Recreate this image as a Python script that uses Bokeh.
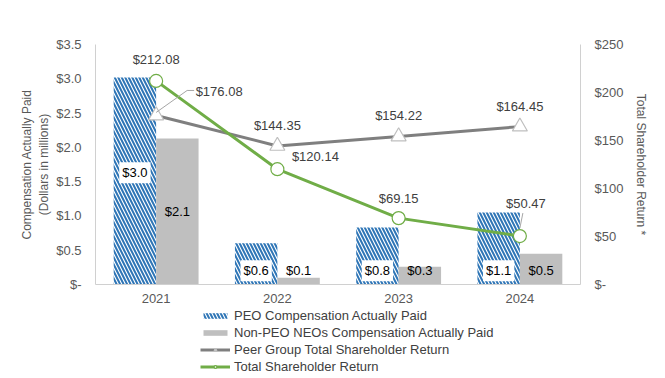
from bokeh.plotting import figure
from bokeh.layouts import column
from bokeh.models import (Range1d, LinearAxis, FixedTicker, CustomJSTickFormatter,
                          Legend, LegendItem, ColumnDataSource)
from bokeh.embed import file_html
from bokeh.resources import INLINE
from bokeh.core.properties import value

# ---------------- data ----------------
years = ["2021", "2022", "2023", "2024"]
peo_cap = [3.02, 0.60, 0.83, 1.05]          # $ millions
non_peo_cap = [2.13, 0.10, 0.26, 0.45]      # $ millions
peo_labels = ["$3.0", "$0.6", "$0.8", "$1.1"]
non_peo_labels = ["$2.1", "$0.1", "$0.3", "$0.5"]
tsr = [212.08, 120.14, 69.15, 50.47]
peer_tsr = [176.08, 144.35, 154.22, 164.45]
left_ticks = [0, 0.5, 1.0, 1.5, 2.0, 2.5, 3.0, 3.5]
right_ticks = [0, 50, 100, 150, 200, 250]
series_names = ["PEO Compensation Actually Paid", "Non-PEO NEOs Compensation Actually Paid",
                "Peer Group Total Shareholder Return", "Total Shareholder Return"]

FONT = "Liberation Sans"
TXT = "#404040"
AX = "#595959"
BLUE = "#2E75B6"
GRAY_BAR = "#BFBFBF"
PEER = "#7F7F7F"
GREEN = "#70AD47"

FW, FH = 485, 240
XMAX, YMAX, Y2MAX = 4, 3.5, 250

xc = [i + 0.5 for i in range(len(years))]
bw = 0.35

p = figure(frame_width=FW, frame_height=FH, output_backend="svg", toolbar_location=None,
           x_range=Range1d(0, XMAX), y_range=Range1d(0, YMAX),
           min_border_left=95, min_border_right=85, min_border_top=44, min_border_bottom=24)
p.extra_y_ranges = {"tsr": Range1d(0, Y2MAX)}
p.outline_line_color = None
p.xgrid.visible = False
p.ygrid.visible = False
p.background_fill_color = "white"
p.border_fill_color = "white"

# bars
src = ColumnDataSource(dict(
    x_peo=[x - bw / 2 for x in xc], x_non=[x + bw / 2 for x in xc],
    peo=peo_cap, non=non_peo_cap,
    peo_lab=peo_labels, non_lab=non_peo_labels,
    peo_ly=[v * 0.54 if v >= 2 else 0.2 for v in peo_cap],
    non_ly=[v / 2 if v >= 2 else 0.2 for v in non_peo_cap],
))
hatch = dict(hatch_pattern="left_diagonal_line", hatch_color=BLUE, hatch_weight=2, hatch_scale=7)
p.vbar(x="x_peo", top="peo", width=bw, source=src, fill_color="white", line_color=None, **hatch)
p.vbar(x="x_non", top="non", width=bw, source=src, fill_color=GRAY_BAR, line_color=None)

p.text(x="x_peo", y="peo_ly", text="peo_lab", source=src, text_align="center",
       text_baseline="middle", text_font=value(FONT), text_font_size="13px", text_color="black",
       background_fill_color="white", border_line_color=None, padding=3)
p.text(x="x_non", y="non_ly", text="non_lab", source=src, text_align="center",
       text_baseline="middle", text_font=value(FONT), text_font_size="13px", text_color="black")

# lines
lsrc = ColumnDataSource(dict(
    x=xc, tsr=tsr, peer=peer_tsr,
    tsr_lab=["$%.2f" % v for v in tsr], peer_lab=["$%.2f" % v for v in peer_tsr],
    tsr_dx=[0, 38, 0, 6], tsr_dy=[-21, -13, -20, -33],
    peer_dx=[63, 0, 0, 0], peer_dy=[-24, -20, -21, -20],
))
peer_line = dict(line_color=PEER, line_width=3)
peer_mark = dict(marker="triangle", size=15, fill_color="white", line_color=GRAY_BAR, line_width=1.2)
tsr_line = dict(line_color=GREEN, line_width=3)
tsr_mark = dict(marker="circle", size=13, fill_color="white", line_color=GREEN, line_width=1.2)
p.line("x", "peer", source=lsrc, y_range_name="tsr", **peer_line)
p.scatter("x", "peer", source=lsrc, y_range_name="tsr", **peer_mark)
p.line("x", "tsr", source=lsrc, y_range_name="tsr", **tsr_line)
p.scatter("x", "tsr", source=lsrc, y_range_name="tsr", **tsr_mark)

# leader lines (pixel offsets converted to data units)
dxp = XMAX / FW
dyp = Y2MAX / FH
lead1 = [(0, -3), (31, -25), (38, -25)]
lead2 = [(0, -8), (3, -23)]
p.multi_line(xs=[[xc[0] + a * dxp for a, b in lead1], [xc[3] + a * dxp for a, b in lead2]],
             ys=[[peer_tsr[0] - b * dyp for a, b in lead1], [tsr[3] - b * dyp for a, b in lead2]],
             y_range_name="tsr", line_color="#A6A6A6", line_width=1)

for lab, dx, dy, yy in (("peer_lab", "peer_dx", "peer_dy", "peer"), ("tsr_lab", "tsr_dx", "tsr_dy", "tsr")):
    p.text(x="x", y=yy, text=lab, source=lsrc, y_range_name="tsr", x_offset=dx, y_offset=dy,
           text_align="center", text_baseline="middle", text_font=value(FONT),
           text_font_size="13px", text_color=TXT)

# axes
def style_axis(ax):
    ax.major_tick_line_color = None
    ax.minor_tick_line_color = None
    ax.major_tick_out = 0
    ax.major_tick_in = 0
    ax.axis_line_color = "#D0D0D0"
    ax.major_label_text_font = FONT
    ax.major_label_text_font_size = "13px"
    ax.major_label_text_color = AX
    ax.axis_label_text_font = FONT
    ax.axis_label_text_font_size = "12px"
    ax.axis_label_text_font_style = "normal"
    ax.axis_label_text_color = AX

xa = p.xaxis[0]
style_axis(xa)
xa.ticker = FixedTicker(ticks=xc)
xa.formatter = CustomJSTickFormatter(args=dict(labels=years), code="return labels[Math.floor(tick)];")
xa.major_label_standoff = 9

ya = p.yaxis[0]
style_axis(ya)
ya.ticker = FixedTicker(ticks=left_ticks)
ya.formatter = CustomJSTickFormatter(code="return tick == 0 ? '$-' : '$' + tick.toFixed(1);")
ya.major_label_standoff = 14
ya.axis_label = "Compensation Actually Paid\n(Dollars in millions)"
ya.axis_label_standoff = 2

ra = LinearAxis(y_range_name="tsr")
style_axis(ra)
ra.ticker = FixedTicker(ticks=right_ticks)
ra.formatter = CustomJSTickFormatter(code="return tick == 0 ? '$-' : '$' + tick.toFixed(0);")
ra.major_label_standoff = 14
ra.axis_label = "Total Shareholder Return *"
ra.axis_label_standoff = 8
p.add_layout(ra, "right")

# ---------------- legend (separate strip below the chart) ----------------
lg = figure(width=665, height=70, output_backend="svg", toolbar_location=None,
            x_range=Range1d(0, 1), y_range=Range1d(0, 1),
            min_border_left=95, min_border_right=85, min_border_top=0, min_border_bottom=0)
lg.axis.visible = False
lg.grid.visible = False
lg.outline_line_color = None
# legend-only renderers: their single point lies outside the visible range
off = [-5]
lg_peo = lg.vbar(x=off, top=off, width=0.1, fill_color="white", line_color=None, **hatch)
lg_non = lg.vbar(x=off, top=off, width=0.1, fill_color=GRAY_BAR, line_color=None)
lg_pl = lg.line(x=off, y=off, **peer_line)
lg_pm = lg.scatter(x=off, y=off, **{**peer_mark, "size": 9})
lg_tl = lg.line(x=off, y=off, **tsr_line)
lg_tm = lg.scatter(x=off, y=off, **{**tsr_mark, "size": 8})

legend = Legend(items=[
    LegendItem(label=series_names[0], renderers=[lg_peo]),
    LegendItem(label=series_names[1], renderers=[lg_non]),
    LegendItem(label=series_names[2], renderers=[lg_pl, lg_pm]),
    LegendItem(label=series_names[3], renderers=[lg_tl, lg_tm]),
], location=(105, 3), orientation="vertical", background_fill_alpha=0,
    border_line_color=None, padding=0, margin=0, spacing=0, label_height=17,
    glyph_height=7, glyph_width=30, label_standoff=4,
    label_text_font=FONT, label_text_font_size="13px", label_text_color=TXT)
lg.add_layout(legend, "center")

layout = column(p, lg, spacing=0)
open("out.html", "w").write(file_html(layout, INLINE))
